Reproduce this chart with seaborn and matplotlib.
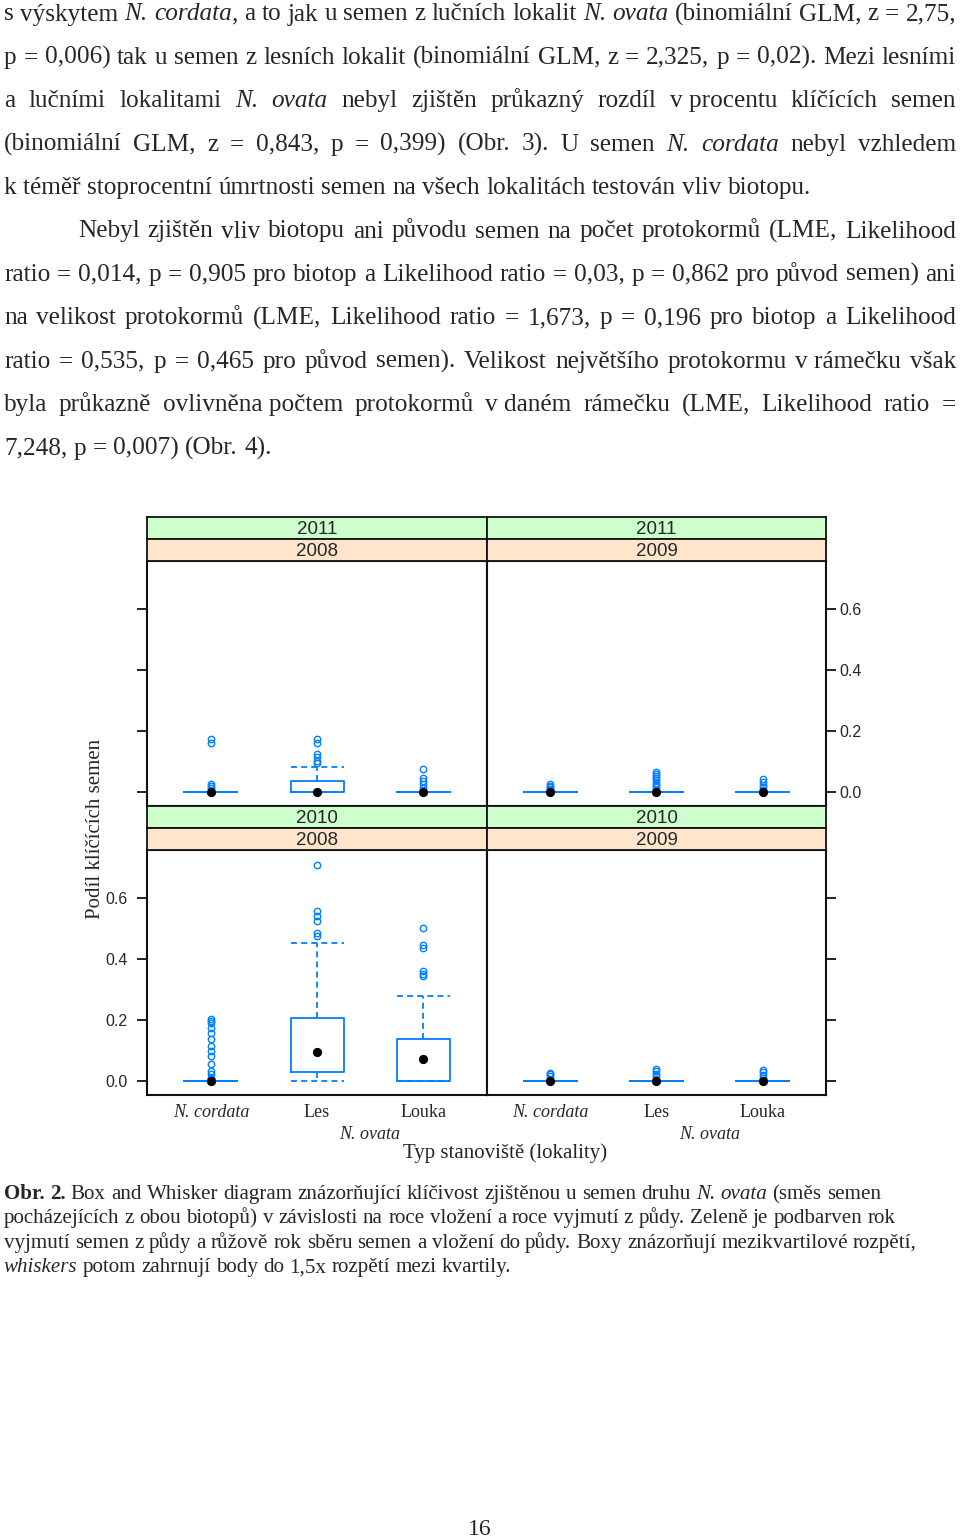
import numpy as np
import pandas as pd
import matplotlib
matplotlib.use("Agg")
import matplotlib.pyplot as plt
from matplotlib.transforms import IdentityTransform
import seaborn as sns

# --- chart data: germination proportion per sample ---
groups = ["N. cordata", "Les", "Louka"]
year_out = ["2011", "2011", "2010", "2010"]   # green strips (rok vyjmuti)
year_in = ["2008", "2009", "2008", "2009"]    # peach strips (rok vlozeni)
yticks = [0.0, 0.2, 0.4, 0.6]
ytick_labels = ["0.0", "0.2", "0.4", "0.6"]

# 2011 / 2008
cord_11_08 = [0.0] * 40 + [0.013, 0.019, 0.026, 0.161, 0.175]
les_11_08 = [0.0] * 15 + [0.005, 0.01, 0.015, 0.02, 0.025, 0.03, 0.036, 0.083,
                          0.095, 0.102, 0.113, 0.124, 0.16, 0.173]
louka_11_08 = [0.0] * 40 + [0.013, 0.026, 0.036, 0.046, 0.076]
# 2011 / 2009
cord_11_09 = [0.0] * 40 + [0.005, 0.01, 0.015, 0.02, 0.026]
les_11_09 = [0.0] * 40 + [0.008, 0.015, 0.022, 0.03, 0.038, 0.045, 0.052, 0.058, 0.066]
louka_11_09 = [0.0] * 40 + [0.008, 0.016, 0.024, 0.032, 0.044]
# 2010 / 2008
cord_10_08 = [0.0] * 45 + [0.005, 0.011, 0.022, 0.033, 0.055, 0.082, 0.098, 0.115,
                           0.136, 0.158, 0.175, 0.189, 0.195, 0.202]
les_10_08 = [0.0, 0.0, 0.005, 0.01, 0.015, 0.02, 0.026, 0.031, 0.04, 0.05, 0.06, 0.07,
             0.08, 0.09, 0.096, 0.11, 0.125, 0.14, 0.16, 0.175, 0.19, 0.207, 0.451,
             0.475, 0.485, 0.525, 0.54, 0.558, 0.709]
louka_10_08 = [0.0] * 8 + [0.01, 0.02, 0.03, 0.045, 0.055, 0.065, 0.073, 0.08, 0.09,
                           0.1, 0.11, 0.12, 0.13, 0.136, 0.278, 0.345, 0.352, 0.36,
                           0.437, 0.445, 0.502]
# 2010 / 2009
cord_10_09 = [0.0] * 40 + [0.008, 0.015, 0.022, 0.027]
les_10_09 = [0.0] * 40 + [0.008, 0.016, 0.024, 0.032, 0.04]
louka_10_09 = [0.0] * 40 + [0.01, 0.02, 0.028, 0.036]

# --- page text ---
para1 = [
    "s výskytem *N. cordata*, a to jak u semen z lučních lokalit *N. ovata* (binomiální GLM, z = 2,75,",
    "p = 0,006) tak u semen z lesních lokalit (binomiální GLM, z = 2,325, p = 0,02). Mezi lesními",
    "a lučními lokalitami *N. ovata* nebyl zjištěn průkazný rozdíl v~procentu klíčících semen",
    "(binomiální GLM, z = 0,843, p = 0,399) (Obr. 3). U semen *N. cordata* nebyl vzhledem",
    "k~téměř stoprocentní úmrtnosti semen na všech lokalitách testován vliv biotopu.",
]
para2 = [
    "Nebyl zjištěn vliv biotopu ani původu semen na počet protokormů (LME, Likelihood",
    "ratio = 0,014, p = 0,905 pro biotop a Likelihood ratio = 0,03, p = 0,862 pro původ semen) ani",
    "na velikost protokormů (LME, Likelihood ratio = 1,673, p = 0,196 pro biotop a Likelihood",
    "ratio = 0,535, p = 0,465 pro původ semen). Velikost největšího protokormu v~rámečku však",
    "byla průkazně ovlivněna~počtem protokormů v~daném rámečku (LME, Likelihood ratio =",
    "7,248, p = 0,007) (Obr. 4).",
]
caption = [
    "#Obr. 2.# Box and Whisker diagram znázorňující klíčivost zjištěnou u semen druhu *N. ovata* (směs semen",
    "pocházejících z obou biotopů) v závislosti na roce vložení a roce vyjmutí z půdy. Zeleně je podbarven rok",
    "vyjmutí semen z půdy a růžově rok sběru semen a vložení do půdy. Boxy znázorňují mezikvartilové rozpětí,",
    "*whiskers* potom zahrnují body do 1,5x rozpětí mezi kvartily.",
]

W, H = 960, 1537
SERIF = "Liberation Serif"
SANS = "Liberation Sans"
blue = "#0080ff"

sns.set_style("ticks")
plt.rcParams["font.family"] = [SANS, "DejaVu Sans"]

fig = plt.figure(figsize=(W / 100, H / 100), dpi=100)
renderer = fig.canvas.get_renderer()


def px_rect(x, y, w, h):
    return [x / W, 1 - (y + h) / H, w / W, h / H]


def parse(line):
    # '*' toggles italic, '#' toggles bold, '~' is a space that is not stretched
    words, word, buf = [], [], ""
    it, bd = False, False
    for ch in line + " ":
        if ch in "*# ":
            if buf:
                word.append((buf, it, bd))
                buf = ""
            if ch == "*":
                it = not it
            elif ch == "#":
                bd = not bd
            elif word:
                words.append(word)
                word = []
        else:
            buf += " " if ch == "~" else ch
    return words


def space_width(size):
    ws = []
    for s in ["a a", "aa"]:
        t = fig.text(0, 0, s, size=size, family=SERIF)
        ws.append(t.get_window_extent(renderer).width)
        t.remove()
    return ws[0] - ws[1]


def put_line(line, base, x0, x1=None, size=17):
    words = parse(line)
    arts, widths = [], []
    for w in words:
        row, tot = [], 0
        for txt, it, bd in w:
            t = fig.text(0, H - base, txt, transform=IdentityTransform(), family=SERIF,
                         size=size, style="italic" if it else "normal",
                         weight="bold" if bd else "normal", va="baseline", ha="left")
            tw = t.get_window_extent(renderer).width
            row.append((t, tw))
            tot += tw
        arts.append(row)
        widths.append(tot)
    gap = space_width(size)
    if x1 is not None and len(words) > 1:
        gap = (x1 - x0 - sum(widths)) / (len(words) - 1)
    x = x0
    for row in arts:
        for t, tw in row:
            t.set_x(x)
            x += tw
        x += gap


# body paragraphs
body_size = 18.2
base0, step = 20.5, 43.4
lines = [(l, 4, i < len(para1) - 1) for i, l in enumerate(para1)]
lines += [(l, 78 if i == 0 else 4, i < len(para2) - 1) for i, l in enumerate(para2)]
for k, (l, x0, just) in enumerate(lines):
    put_line(l, base0 + k * step, x0, 956 if just else None, size=body_size)

# caption
for k, l in enumerate(caption):
    put_line(l, 1199 + k * 24.4, 4, None, size=15.1)

fig.text(480 / W, 1 - 1535 / H, "16", family=SERIF, size=17, ha="center", va="baseline")

# --- lattice-like box and whisker panels ---
panels = [
    (0, 0, [cord_11_08, les_11_08, louka_11_08]),
    (0, 1, [cord_11_09, les_11_09, louka_11_09]),
    (1, 0, [cord_10_08, les_10_08, louka_10_08]),
    (1, 1, [cord_10_09, les_10_09, louka_10_09]),
]
col_x = [147.3, 486.7]
col_w = 339.5
row_top = [517.0, 806.0]
strip_h = 22
panel_h = 245
dash = (0, (3.3, 2.3))

for i, (r, c, vals) in enumerate(panels):
    df = pd.DataFrame({"grp": np.repeat(groups, [len(v) for v in vals]),
                       "val": np.concatenate(vals)})
    ax = fig.add_axes(px_rect(col_x[c], row_top[r] + 2 * strip_h, col_w, panel_h))
    sns.boxplot(data=df, x="grp", y="val", order=groups, width=0.5, whis=1.5,
                fill=False, color=blue, saturation=1, linewidth=1.3, fliersize=4.6,
                flierprops=dict(marker="o", markerfacecolor="none",
                                markeredgecolor=blue, markeredgewidth=1.0),
                medianprops=dict(visible=False),
                whiskerprops=dict(linestyle=dash),
                capprops=dict(linestyle=dash, gid="cap"), ax=ax)
    sns.pointplot(data=df, x="grp", y="val", order=groups, estimator="median",
                  errorbar=None, color="black", linestyle="none", marker="o",
                  markersize=4.6, ax=ax)
    for ln in ax.lines:
        if ln.get_gid() == "cap":
            xm = np.mean(ln.get_xdata())
            ln.set_xdata([xm - 0.25, xm + 0.25])

    ax.set_xlim(-0.6, 2.6)
    ax.set_ylim(-0.046, 0.757)
    ax.set_xlabel("")
    ax.set_ylabel("")
    for s in ax.spines.values():
        s.set_visible(True)
        s.set_linewidth(1.5)
        s.set_color("#111111")
    ax.set_yticks(yticks)
    ax.set_yticklabels(ytick_labels)
    if c == 0:
        ax.tick_params(axis="y", left=True, right=False, labelleft=(r == 1),
                       labelright=False, length=7.2, width=1.3, pad=7, labelsize=11.5,
                       color="#111111")
    else:
        ax.tick_params(axis="y", left=False, right=True, labelleft=False,
                       labelright=(r == 0), length=7.2, width=1.3, pad=2, labelsize=11.5,
                       color="#111111")
    ax.set_xticks(range(len(groups)))
    ax.set_xticklabels(groups, fontfamily=SERIF, fontsize=13)
    ax.get_xticklabels()[0].set_style("italic")
    ax.tick_params(axis="x", length=0, pad=6.5, labelbottom=(r == 1))
    if r == 1:
        ax.annotate("N. ovata", xy=(1.5, 0), xycoords=("data", "axes fraction"),
                    xytext=(0, -31.5), textcoords="offset points", ha="center",
                    va="baseline", family=SERIF, style="italic", size=13)

    # strips: outer (green) = year taken out, inner (peach) = year buried
    for k, (lab, colr) in enumerate([(year_out[i], "#ccffcc"), (year_in[i], "#ffe5cc")]):
        sa = fig.add_axes(px_rect(col_x[c], row_top[r] + k * strip_h, col_w, strip_h))
        sa.set_facecolor(colr)
        sa.set_xticks([])
        sa.set_yticks([])
        for s in sa.spines.values():
            s.set_visible(True)
            s.set_linewidth(1.3)
            s.set_color("#111111")
        sa.text(0.5, 0.45, lab, ha="center", va="center", family=SANS, size=13.5,
                transform=sa.transAxes)

fig.text(96 / W, 1 - 829 / H, "Podíl klíčících semen", rotation=90, ha="center",
         va="center", family=SERIF, size=15)
fig.text(505 / W, 1 - 1153 / H, "Typ stanoviště (lokality)", ha="center", va="center",
         family=SERIF, size=15)

fig.savefig("out.png", dpi=100)
